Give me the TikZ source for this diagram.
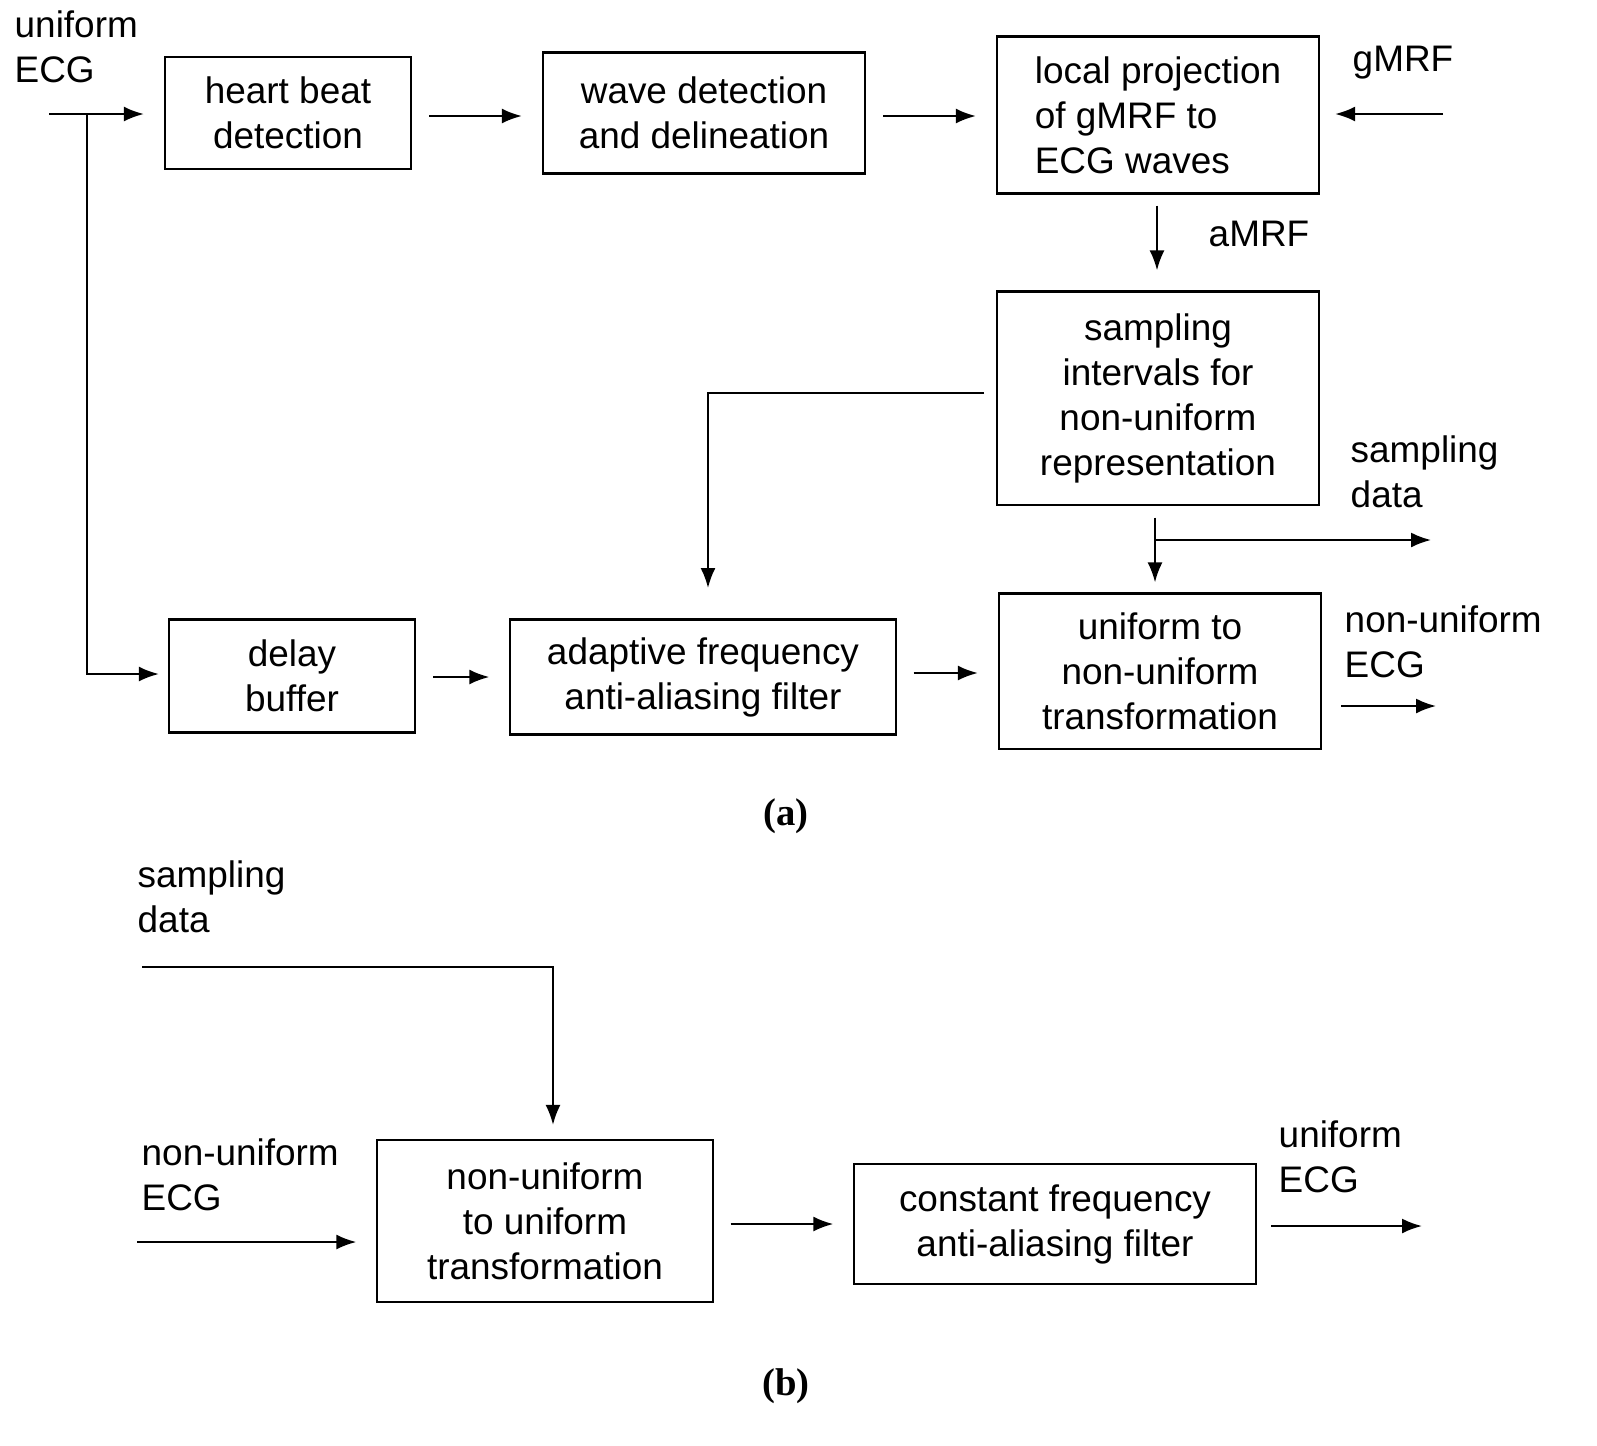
\documentclass[tikz,border=0pt]{standalone}
\usepackage{fontspec}
\setmainfont{Liberation Sans}
\newfontfamily\capfont{Liberation Serif}
\usetikzlibrary{arrows.meta,positioning}
\begin{document}
\begin{tikzpicture}[x=0.01cm,y=-0.01cm,
    blk/.style={draw,line width=0.6pt,align=center,inner sep=0pt,font=\fontsize{10.5}{12.8}\selectfont},
    lbl/.style={align=left,inner sep=0pt,anchor=north west,font=\fontsize{10.5}{12.8}\selectfont},
    capt/.style={font=\capfont\bfseries\fontsize{11}{13}\selectfont},
    arr/.style={line width=0.6pt,-{Latex[length=2mm,width=1.5mm]}},
    gap/.style={shorten <=0.17cm,shorten >=0.2cm}]
    \useasboundingbox (0,0) rectangle (1597,1445);
    %(a) blocks
    \node[blk,minimum width=2.46cm,minimum height=1.12cm] (hb) at (288,113) {heart beat\\detection};
    \node[blk,minimum width=3.22cm,minimum height=1.21cm] (wd) at (704,113) {wave detection\\and delineation};
    \node[blk,minimum width=3.22cm,minimum height=1.57cm,align=left] (lp) at (1158,115) {local projection\\of gMRF to\\ECG waves};
    \node[blk,minimum width=3.22cm,minimum height=2.13cm] (si) at (1158,398) {sampling\\intervals for\\non-uniform\\representation};
    \node[blk,minimum width=2.46cm,minimum height=1.13cm] (db) at (292,676) {delay\\buffer};
    \node[blk,minimum width=3.85cm,minimum height=1.15cm] (af) at (703,677) {adaptive frequency\\anti-aliasing filter};
    \node[blk,minimum width=3.22cm,minimum height=1.55cm] (ut) at (1160,671) {uniform to\\non-uniform\\transformation};
    %labels
    \node[lbl] (in) at (14,10) {uniform\\ECG};
    \node[lbl] (gm) at (1352,45) {gMRF};
    \node[lbl] (am) at (1208,220) {aMRF};
    \node[lbl] (sd) at (1350,435) {sampling\\data};
    \node[lbl] (nuo) at (1344,605) {non-uniform\\ECG};
    \node[capt] (ca) at (786,816) {(a)};
    %free ends
    \coordinate (i0) at (49,114);
    \coordinate (i1) at (87,114);
    \coordinate (i2) at (87,674);
    \coordinate (g0) at (1443,114);
    \coordinate (s0) at (984,393);
    \coordinate (s1) at (708,393);
    \coordinate (s2) at (708,588);
    \coordinate (b0) at (1155,540);
    \coordinate (b1) at (1431,540);
    \coordinate (o0) at (1341,706);
    \coordinate (o1) at (1436,706);
    %(a) connectors
    \draw[arr,shorten >=0.2cm] (i0) -- (hb.west |- i0);
    \draw[arr,shorten >=0.09cm] (i1) -- (i2) -- (db.west |- i2);
    \draw[arr,gap] (hb.east |- 0,116) -- (wd.west |- 0,116);
    \draw[arr,gap] (wd.east |- 0,116) -- (lp.west |- 0,116);
    \draw[arr,shorten >=0.15cm] (g0) -- (lp.east |- g0);
    \draw[arr,shorten <=0.11cm,shorten >=0.2cm] (lp.south -| 1157,0) -- (si.north -| 1157,0);
    \draw[arr] (s0) -- (s1) -- (s2);
    \draw[arr,shorten <=0.12cm,shorten >=0.1cm] (si.south -| 1155,0) -- (ut.north -| 1155,0);
    \draw[arr] (b0) -- (b1);
    \draw[arr,gap] (db.east |- 0,677) -- (af.west |- 0,677);
    \draw[arr,gap] (af.east |- 0,673) -- (ut.west |- 0,673);
    \draw[arr] (o0) -- (o1);
    %(b) blocks
    \node[blk,minimum width=3.35cm,minimum height=1.62cm] (nu) at (545,1221) {non-uniform\\to uniform\\transformation};
    \node[blk,minimum width=4.01cm,minimum height=1.2cm] (cf) at (1055,1224) {constant frequency\\anti-aliasing filter};
    \node[lbl] (sd2) at (137,860) {sampling\\data};
    \node[lbl] (nui) at (141,1138) {non-uniform\\ECG};
    \node[lbl] (uo) at (1278,1120) {uniform\\ECG};
    \node[capt] (cb) at (786,1386) {(b)};
    \coordinate (t0) at (142,967);
    \coordinate (t1) at (553,967);
    \coordinate (n0) at (137,1242);
    \coordinate (c0) at (1271,1226);
    \coordinate (c1) at (1422,1226);
    %(b) connectors
    \draw[arr,shorten >=0.14cm] (t0) -- (t1) -- (nu.north -| t1);
    \draw[arr,shorten >=0.2cm] (n0) -- (nu.west |- n0);
    \draw[arr,gap] (nu.east |- 0,1224) -- (cf.west |- 0,1224);
    \draw[arr] (c0) -- (c1);
\end{tikzpicture}
\end{document}
